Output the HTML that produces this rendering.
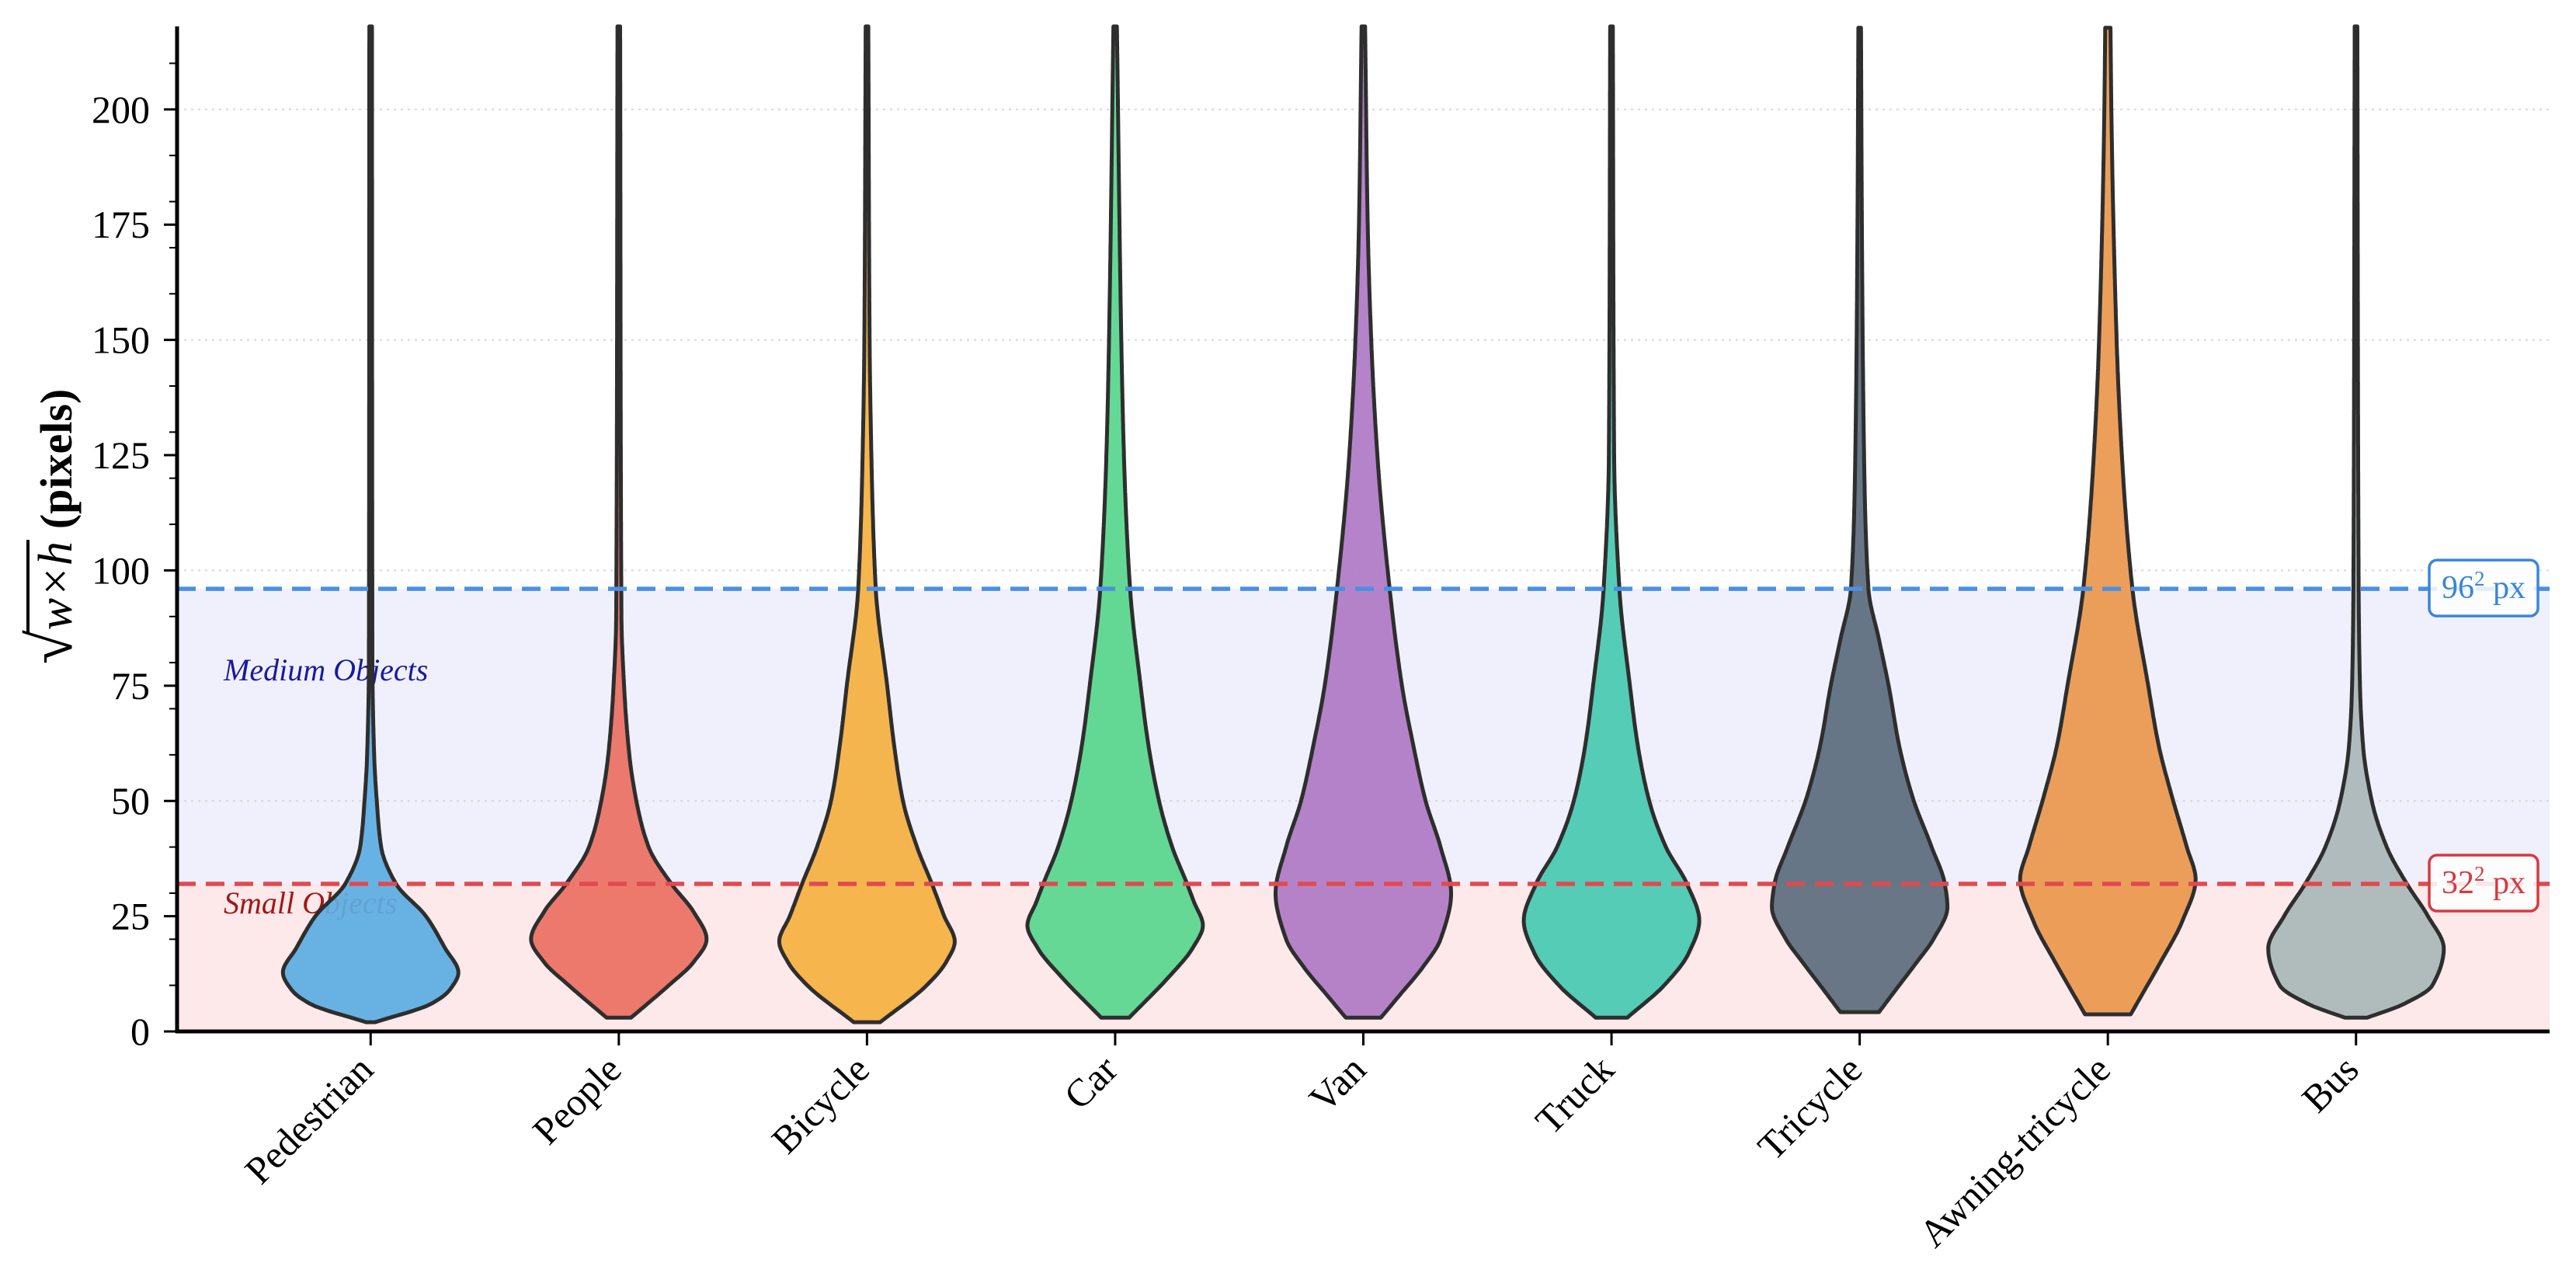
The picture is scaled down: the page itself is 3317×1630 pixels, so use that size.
<!DOCTYPE html>
<html><head><meta charset="utf-8"><style>
html,body{margin:0;padding:0;background:#fff}
svg{display:block}
text{font-family:"Liberation Serif",serif}
</style></head><body>
<svg id="chart" width="3317" height="1630" viewBox="0 0 3317 1630"></svg>
<script>
const categories=["Pedestrian","People","Bicycle","Car","Van","Truck","Tricycle","Awning-tricycle","Bus"];
const colors=["#5DADE2","#EC7063","#F5B041","#58D68D","#AF7AC5","#48C9B0","#5D6D7E","#EB984E","#AAB7B8"];
// density profiles: values (y) and relative widths (0..1)
const profY=[
 [2,6,9,12.8,18,25,32,40,50,60,80,218],
 [3,10,15,20,26,32,40,50,60,75,90,218],
 [2,10,15,19.5,25,32,40,50,62,75,96,125,150,218],
 [3,12,18,23,28,32,40,50,62,75,96,125,150,218],
 [3,8,14,20,30,40,50,62,75,96,125,150,175,218],
 [3,10,17,24,32,40,50,62,75,96,125,218],
 [4.2,10,15,20,27,32,40,51,62,75,85,96,125,175,218],
 [3.7,9,15,24,33,40,51,62,75,96,125,150,200,218],
 [3,6,10,18,25,32,40,50,62,75,96,218]
];
const profW=[
 [0.05,0.69,0.9,1.0,0.85,0.63,0.29,0.12,0.07,0.04,0.02,0.015],
 [0.14,0.57,0.85,1.0,0.85,0.6,0.34,0.2,0.12,0.06,0.03,0.015],
 [0.15,0.68,0.9,1.0,0.88,0.74,0.57,0.41,0.31,0.23,0.1,0.05,0.03,0.015],
 [0.16,0.62,0.88,1.0,0.9,0.82,0.65,0.5,0.38,0.29,0.17,0.1,0.07,0.02],
 [0.2,0.42,0.68,0.88,1.0,0.88,0.71,0.57,0.44,0.3,0.16,0.09,0.05,0.02],
 [0.18,0.6,0.88,1.0,0.86,0.62,0.43,0.3,0.21,0.09,0.03,0.015],
 [0.22,0.45,0.65,0.84,1.0,0.97,0.82,0.6,0.45,0.33,0.22,0.1,0.05,0.025,0.015],
 [0.26,0.42,0.6,0.85,1.0,0.9,0.73,0.58,0.46,0.28,0.16,0.1,0.04,0.03],
 [0.13,0.55,0.87,1.0,0.82,0.58,0.35,0.18,0.08,0.045,0.03,0.015]
];
const yTicks=[0,25,50,75,100,125,150,175,200];
const yMinor=[10,20,30,40,60,70,80,90,110,120,130,140,160,170,180,190,210];
const gridVals=[50,100,150,200];
const smallThr=32, medThr=96;

const NS="http://www.w3.org/2000/svg";
const svg=document.getElementById('chart');
const L=228,R=3283,T=34,B=1328;
const yMin=0,yMax=218,xMin=0.22,xMax=9.78;
const yS=v=>B-(v-yMin)/(yMax-yMin)*(B-T);
const xS=i=>L+(i+1-xMin)/(xMax-xMin)*(R-L);
const maxHalf=113;
function mk(tag,attrs,parent){const e=document.createElementNS(NS,tag);for(const k in attrs)e.setAttribute(k,attrs[k]);(parent||svg).appendChild(e);return e;}

function monotone(xs,ys){
 const n=xs.length,d=[],m=new Array(n);
 for(let k=0;k<n-1;k++)d.push((ys[k+1]-ys[k])/(xs[k+1]-xs[k]));
 m[0]=d[0];m[n-1]=d[n-2];
 for(let k=1;k<n-1;k++){ if(d[k-1]*d[k]<=0)m[k]=0; else{const h0=xs[k]-xs[k-1],h1=xs[k+1]-xs[k];const w1=2*h1+h0,w2=h1+2*h0;m[k]=(w1+w2)/(w1/d[k-1]+w2/d[k]);}}
 return function(x){let k=0;while(k<n-2&&x>xs[k+1])k++;const h=xs[k+1]-xs[k],t=(x-xs[k])/h;
  const t2=t*t,t3=t2*t;return (2*t3-3*t2+1)*ys[k]+(t3-2*t2+t)*h*m[k]+(-2*t3+3*t2)*ys[k+1]+(t3-t2)*h*m[k+1];};
}

let e=mk('rect',{x:L,y:yS(smallThr),width:R-L,height:B-yS(smallThr),fill:'#fde8ea'});


e=mk('rect',{x:L,y:yS(medThr),width:R-L,height:yS(smallThr)-yS(medThr),fill:'#f0f0fc'});


gridVals.forEach(v=>{
 const g=mk('line',{x1:L,x2:R,y1:yS(v),y2:yS(v),stroke:'#d8d8d8','stroke-width':2,'stroke-dasharray':'3,6'});
 
 
});
e=mk('text',{x:288,y:yS(78.5)+14,'font-size':40,'font-style':'italic',fill:'#1a1a9c'});
e.textContent='Medium Objects';


e=mk('text',{x:288,y:yS(28)+14,'font-size':40,'font-style':'italic',fill:'#a01818'});
e.textContent='Small Objects';



categories.forEach((c,i)=>{
 const cx=xS(i),ys=profY[i],ws=profW[i];
 const f=monotone(ys,ws);
 const right=[],left=[];
 const lo=ys[0],hi=ys[ys.length-1];
 for(let v=lo;v<=hi+1e-9;v+=0.5){const w=Math.max(0.012,f(Math.min(v,hi)));right.push([cx+w*maxHalf,yS(v)]);left.push([cx-w*maxHalf,yS(v)]);}
 left.reverse();
 const pts=right.concat(left);
 const d='M'+pts.map(p=>p[0].toFixed(1)+','+p[1].toFixed(1)).join(' L')+' Z';
 const p=mk('path',{d:d,fill:colors[i],'fill-opacity':0.93,stroke:'#2e2e2e','stroke-width':5,'stroke-linejoin':'round'});
 
 
});

e=mk('line',{x1:L,x2:R,y1:yS(medThr),y2:yS(medThr),stroke:'#4a90e2','stroke-width':5.5,'stroke-dasharray':'24,13'});


e=mk('line',{x1:L,x2:R,y1:yS(smallThr),y2:yS(smallThr),stroke:'#e04a50','stroke-width':5.5,'stroke-dasharray':'24,13'});


function tbox(v,label,col,name){
 const y=yS(v);
 const r=mk('rect',{x:3128,y:y-37,width:140,height:72,rx:10,fill:'#fff','fill-opacity':0.85,stroke:col,'stroke-width':3.5});
 
 
 const t=mk('text',{x:3198,y:y+12,'font-size':42,fill:col,'text-anchor':'middle'});
 t.innerHTML=label+'<tspan dy="-16" font-size="27">2</tspan><tspan dy="16"> px</tspan>';
 
 
}
tbox(medThr,'96','#3a86d8','medium-threshold');
tbox(smallThr,'32','#d8383e','small-threshold');

e=mk('line',{x1:L,x2:L,y1:T,y2:B+2,stroke:'#000','stroke-width':5});


e=mk('line',{x1:L-2,x2:R,y1:B,y2:B,stroke:'#000','stroke-width':5});


yTicks.forEach(v=>{
 const tk=mk('line',{x1:L-17,x2:L,y1:yS(v),y2:yS(v),stroke:'#000','stroke-width':3});
 
 
 const t=mk('text',{x:L-35,y:yS(v)+17,'font-size':50,'text-anchor':'end'});
 t.textContent=v;
 
 
});
yMinor.forEach(v=>{
 const tk=mk('line',{x1:L-10,x2:L,y1:yS(v),y2:yS(v),stroke:'#000','stroke-width':2});
 
 
});
categories.forEach((c,i)=>{
 const x=xS(i);
 const tk=mk('line',{x1:x,x2:x,y1:B,y2:B+18,stroke:'#000','stroke-width':3});
 
 
 const t=mk('text',{x:x+6,y:B+52,'font-size':50,'text-anchor':'end',transform:`rotate(-45 ${x+6} ${B+52})`});
 t.textContent=c;
 
 
});
const g=mk('g',{transform:`translate(92 678) rotate(-90)`});


const s1=mk('text',{x:0,y:0,'font-size':80},g); s1.textContent='√';
const s2=mk('text',{x:0,y:0,'font-size':62,'font-style':'italic'},g); s2.textContent='w×h';
const s3=mk('text',{x:0,y:0,'font-size':58,'font-weight':'bold'},g); s3.textContent='(pixels)';
const gap=16;
const w1=s1.getComputedTextLength(),w2=s2.getComputedTextLength(),w3=s3.getComputedTextLength();
const tot=w1+w2+gap+w3, x0=-tot/2;
s1.setAttribute('x',x0); s2.setAttribute('x',x0+w1); s3.setAttribute('x',x0+w1+w2+gap);
mk('line',{x1:x0+w1-5,x2:x0+w1+w2+2,y1:-56,y2:-56,stroke:'#000','stroke-width':4},g);
</script>
</body></html>
